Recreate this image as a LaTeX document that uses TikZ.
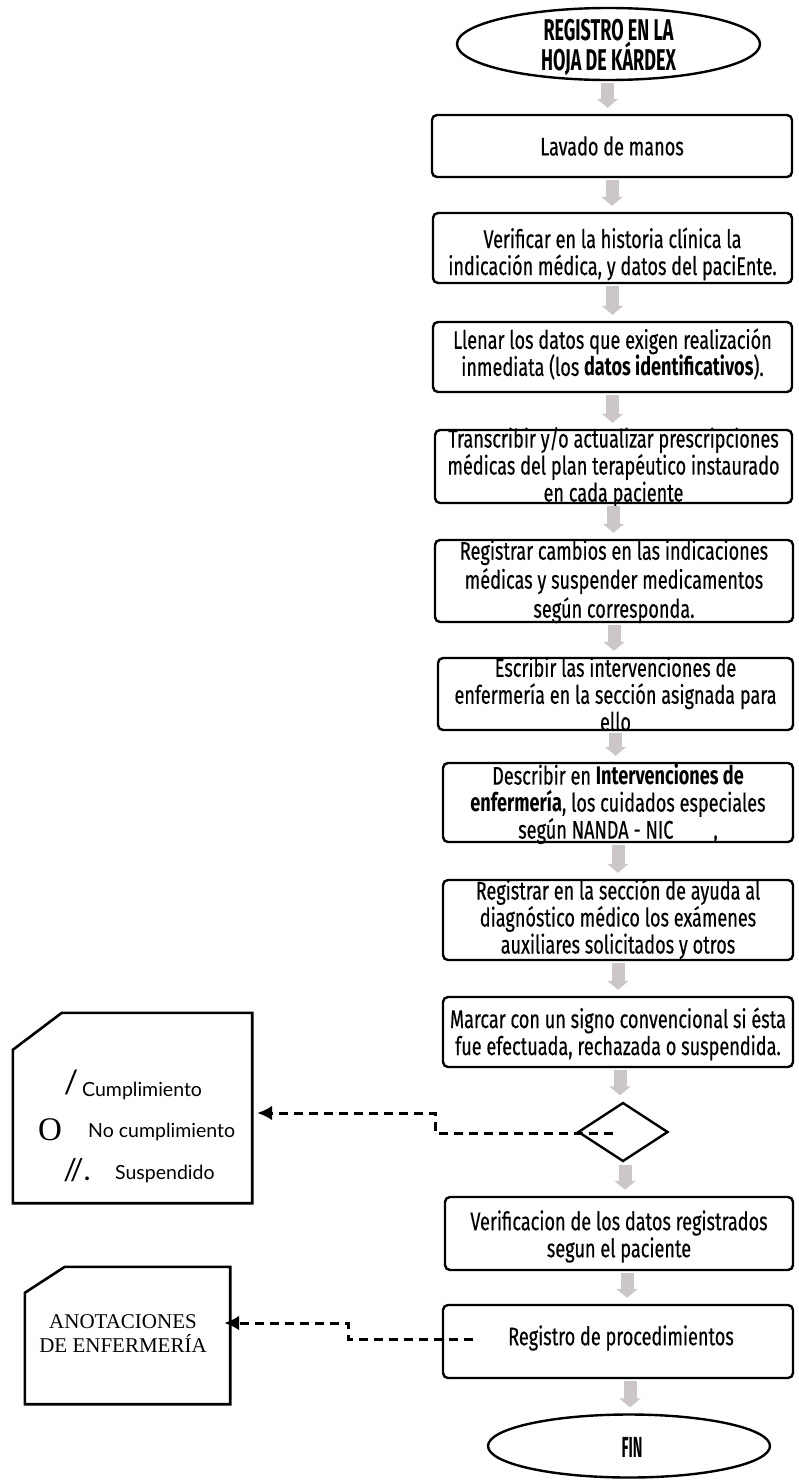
\documentclass[tikz,border=0pt]{standalone}
\usepackage{fontspec}
\setmainfont{Fira Sans}[FakeStretch=0.71, UprightFeatures={FakeBold=0.4}]
\newfontfamily\headfont{Fira Sans}[FakeStretch=0.6]
\newfontfamily\finfont{Fira Sans}[FakeStretch=0.5]
\newfontfamily\legendfont{Lato}
\newfontfamily\notefont{Liberation Serif}
\usetikzlibrary{shapes.geometric,arrows.meta,calc}
\definecolor{arrowgray}{RGB}{204,198,201}

\begin{document}
\begin{tikzpicture}[x=1pt,y=-1pt,
  box/.style={draw, line width=2.4pt, rounded corners=5pt, inner sep=0pt},
  boxtext/.style={align=center, inner sep=0pt, font=\fontsize{25.5}{27}\selectfont},
  term/.style={draw, ellipse, line width=2.4pt, inner sep=0pt},
  decision/.style={draw, diamond, line width=2.4pt, inner sep=0pt, minimum width=90pt, minimum height=59pt},
  flowarrow/.style={draw=arrowgray, line width=13pt, -{Triangle[width=21pt,length=9pt]}, shorten <=2pt, shorten >=6pt},
  dasharrow/.style={line width=3pt, dash pattern=on 9pt off 6pt, -{Latex[length=15pt,width=15pt]}},
  card/.style={line width=2.6pt, line join=miter},
  legend/.style={inner sep=0pt, anchor=west, font=\legendfont\fontsize{19.5}{20}\selectfont},
  signmark/.style={inner sep=0pt, anchor=center}
]
\useasboundingbox (0,0) rectangle (798,1483);

% terminals
\node[term, minimum width=303pt, minimum height=72pt] (start) at (608.5,44) {};
\node[inner sep=0pt, align=center, font=\headfont\bfseries\fontsize{30}{26}\selectfont] (startT) at (608.5,47) {REGISTRO EN LA\\HOJA DE KÁRDEX};

\node[term, minimum width=282pt, minimum height=63pt] (fin) at (629,1446) {};
\node[inner sep=0pt, font=\finfont\bfseries\fontsize{29}{29}\selectfont] (finT) at (632,1447) {FIN};

% process steps
\node[box, minimum width=360pt, minimum height=62pt] (b1) at (612,146) {};
\node[boxtext] (t1) at (612,146) {Lavado de manos};

\node[box, minimum width=359pt, minimum height=70pt] (b2) at (612.5,248) {};
\node[boxtext] (t2) at (612.5,254) {Verificar en la historia clínica la\\indicación médica, y datos del paciEnte.};

\node[box, minimum width=359pt, minimum height=70pt] (b3) at (612.5,357) {};
\node[boxtext] (t3) at (612.5,354) {Llenar los datos que exigen realización\\inmediata (los \textbf{datos identificativos}).};

\node[box, minimum width=357pt, minimum height=73pt] (b4) at (613.5,466.5) {};
\node[boxtext] (t4) at (613.5,467) {Transcribir y/o actualizar prescripciones\\médicas del plan terapéutico instaurado\\en cada paciente};

\node[box, minimum width=358pt, minimum height=82pt] (b5) at (614,581) {};
\node[boxtext, font=\fontsize{25.5}{29}\selectfont] (t5) at (614,581.5) {Registrar cambios en las indicaciones\\médicas y suspender medicamentos\\según corresponda.};

\node[box, minimum width=355pt, minimum height=72pt] (b6) at (615.5,694) {};
\node[boxtext] (t6) at (615.5,694) {Escribir las intervenciones de\\enfermería en la sección asignada para\\ello};

\node[box, minimum width=350pt, minimum height=79pt] (b7) at (618,802.5) {};
\node[boxtext] (t7) at (618,804) {Describir en \textbf{Intervenciones de}\\\textbf{enfermería}, los cuidados especiales\\según NANDA - NIC\hspace{40pt},};

\node[box, minimum width=350pt, minimum height=80pt] (b8) at (618,920) {};
\node[boxtext] (t8) at (618,919) {Registrar en la sección de ayuda al\\diagnóstico médico los exámenes\\auxiliares solicitados y otros};

\node[box, minimum width=350pt, minimum height=70pt] (b9) at (618,1032) {};
\node[boxtext] (t9) at (618,1034) {Marcar con un signo convencional si ésta\\fue efectuada, rechazada o suspendida.};

\node[decision] (dec) at (623,1132) {};

\node[box, minimum width=348pt, minimum height=73pt] (b10) at (619,1233.5) {};
\node[boxtext] (t10) at (619,1236.5) {Verificacion de los datos registrados\\segun el paciente};

\node[box, minimum width=350pt, minimum height=73pt] (b11) at (618,1341.5) {};
\node[boxtext] (t11) at (621,1338) {Registro de procedimientos};

% flow arrows
\draw[flowarrow] ($(start.south)+(-1,0)$) -- ($(start.south |- b1.north)+(-1,0)$);
\foreach \a/\b/\dx in {b1/b2/0, b2/b3/0, b3/b4/0, b4/b5/0, b5/b6/0, b6/b7/0, b7/b8/0, b8/b9/0, b9/dec/2, dec/b10/2, b10/b11/8, b11/fin/12}{
  \draw[flowarrow] ($(\a.south)+(\dx,0)$) -- ($(\a.south |- \b.north)+(\dx,0)$);
}

% legend card for the marks
\node[minimum width=239pt, minimum height=190pt, inner sep=0pt] (card1) at (132.5,1108) {};
\draw[card] (card1.south west) -- ($(card1.north west)+(0,37)$) -- ($(card1.north west)+(49,0)$) -- (card1.north east) -- (card1.south east) -- cycle;
\node[signmark, font=\legendfont\fontsize{32}{32}\selectfont] (m1) at (71,1082) {/};
\node[legend] (l1) at (82,1091) {Cumplimiento};
\node[signmark, font=\notefont\fontsize{33}{33}\selectfont] (m2) at (50,1130) {O};
\node[legend] (l2) at (88,1132) {No cumplimiento};
\node[signmark, font=\legendfont\fontsize{30}{30}\selectfont] (m3) at (77,1170) {//.};
\node[legend] (l3) at (115,1174) {Suspendido};

% nursing notes card
\node[minimum width=205pt, minimum height=137pt, inner sep=0pt] (card2) at (127.5,1335.5) {};
\draw[card] (card2.south west) -- ($(card2.north west)+(0,26)$) -- ($(card2.north west)+(40,0)$) -- (card2.north east) -- (card2.south east) -- cycle;
\node[inner sep=0pt, align=center, font=\notefont\fontsize{21}{24}\selectfont] (note) at (123,1334) {ANOTACIONES\\DE ENFERMERÍA};

% dashed references
\coordinate (s1) at (613,1133);
\coordinate (j1) at (435,1113);
\draw[dasharrow, shorten >=5pt] (s1) -- (s1 -| j1) -- (j1) -- (j1 -| card1.east);

\coordinate (s2) at (473,1339);
\coordinate (j2) at (348,1323);
\draw[dasharrow, shorten >=-6pt] (s2) -- (s2 -| j2) -- (j2) -- (j2 -| card2.east);
\end{tikzpicture}
\end{document}
